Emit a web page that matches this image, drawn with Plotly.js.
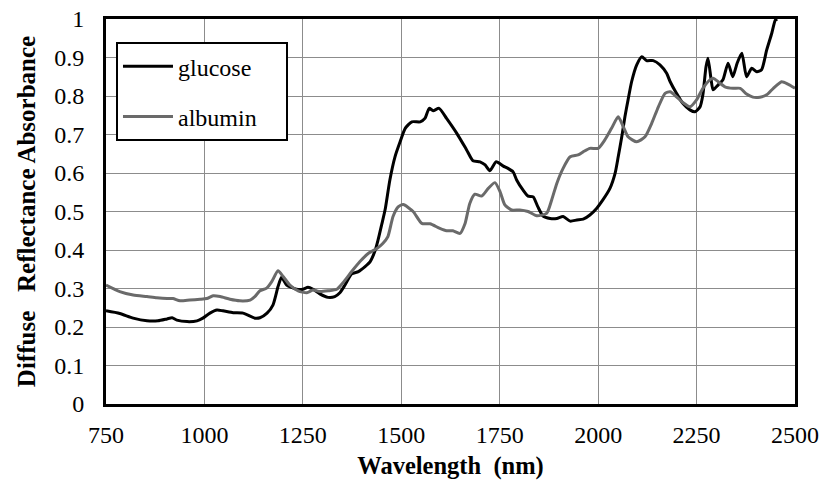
<!DOCTYPE html>
<html>
<head>
<meta charset="utf-8">
<script src="https://cdn.plot.ly/plotly-3.0.1.min.js"></script>
<style>html,body{margin:0;padding:0;background:#fff;}#chart{width:821px;height:484px;}</style>
</head>
<body>
<div id="chart"></div>
<script>
var glucoseX = [750,785,819,854,882,905,918,930,956,981,996,1014,1032,1047,1073,1098,1128,1141,1159,1174,1187,1196,1209,1234,1250,1263,1276,1293,1314,1331,1344,1357,1374,1391,1408,1421,1434,1441,1450,1459,1471,1484,1497,1510,1527,1548,1560,1571,1581,1596,1615,1641,1666,1682,1700,1713,1725,1741,1759,1771,1784,1793,1809,1822,1835,1847,1860,1878,1895,1911,1929,1946,1962,1979,1996,2012,2030,2043,2051,2060,2068,2076,2085,2098,2111,2123,2140,2157,2174,2183,2199,2215,2233,2246,2259,2266,2274,2279,2287,2292,2305,2317,2330,2342,2353,2365,2377,2390,2403,2415,2428,2441,2450,2455];
var glucoseY = [0.242,0.235,0.223,0.216,0.216,0.221,0.224,0.218,0.214,0.216,0.223,0.236,0.244,0.242,0.237,0.236,0.223,0.224,0.236,0.257,0.305,0.329,0.309,0.298,0.298,0.303,0.298,0.286,0.277,0.279,0.289,0.309,0.338,0.344,0.357,0.370,0.400,0.426,0.465,0.505,0.582,0.642,0.681,0.716,0.733,0.733,0.742,0.768,0.762,0.768,0.742,0.703,0.660,0.632,0.629,0.621,0.606,0.629,0.618,0.612,0.603,0.582,0.556,0.540,0.538,0.512,0.488,0.482,0.482,0.487,0.475,0.478,0.480,0.491,0.508,0.530,0.560,0.599,0.642,0.694,0.746,0.790,0.837,0.881,0.902,0.892,0.892,0.881,0.859,0.837,0.807,0.781,0.764,0.759,0.772,0.803,0.876,0.898,0.842,0.816,0.829,0.842,0.885,0.850,0.885,0.911,0.850,0.872,0.863,0.868,0.919,0.963,0.997,1.0];
var albuminX = [750,785,819,854,879,905,920,938,963,989,1006,1022,1040,1065,1090,1116,1128,1141,1158,1171,1187,1200,1217,1238,1260,1276,1293,1314,1336,1352,1374,1395,1416,1438,1453,1466,1479,1492,1505,1530,1552,1573,1598,1615,1631,1649,1662,1674,1687,1704,1721,1738,1751,1763,1780,1801,1822,1844,1869,1882,1895,1911,1929,1949,1962,1979,2000,2017,2034,2051,2064,2076,2098,2119,2136,2153,2170,2183,2199,2215,2233,2250,2266,2284,2292,2305,2322,2343,2361,2377,2393,2411,2428,2445,2466,2482,2500];
var albuminY = [0.309,0.292,0.283,0.279,0.276,0.274,0.274,0.268,0.270,0.272,0.274,0.281,0.279,0.272,0.268,0.270,0.279,0.294,0.301,0.318,0.346,0.331,0.309,0.294,0.289,0.296,0.292,0.294,0.298,0.315,0.344,0.370,0.391,0.404,0.417,0.435,0.487,0.512,0.518,0.500,0.469,0.468,0.456,0.450,0.450,0.443,0.469,0.521,0.545,0.540,0.560,0.575,0.551,0.517,0.504,0.504,0.500,0.489,0.495,0.530,0.573,0.612,0.642,0.647,0.655,0.664,0.664,0.686,0.716,0.746,0.720,0.694,0.681,0.694,0.729,0.772,0.807,0.811,0.798,0.783,0.772,0.790,0.820,0.842,0.846,0.837,0.824,0.820,0.820,0.805,0.797,0.797,0.803,0.820,0.837,0.831,0.820];
var xTicks = [750,1000,1250,1500,1750,2000,2250,2500];
var yTicks = [0,0.1,0.2,0.3,0.4,0.5,0.6,0.7,0.8,0.9,1];
var yTickText = ['0','0.1','0.2','0.3','0.4','0.5','0.6','0.7','0.8','0.9','1'];

var font = 'Liberation Serif';
var traces = [
  {x: glucoseX, y: glucoseY, name: 'glucose\u00a0\u00a0\u00a0\u00a0', mode: 'lines', legendgroup: 'g',
   line: {color: '#000000', width: 3, shape: 'spline', smoothing: 0.6}},
  {x: albuminX, y: albuminY, name: 'albumin\u00a0\u00a0\u00a0\u00a0', mode: 'lines', legendgroup: 'a',
   line: {color: '#6a6a6a', width: 3, shape: 'spline', smoothing: 0.6}}
];
var layout = {
  width: 821, height: 484,
  margin: {l: 106, r: 26, t: 19, b: 80},
  paper_bgcolor: '#fff', plot_bgcolor: '#fff',
  font: {family: font, size: 24, color: '#000'},
  showlegend: true,
  legend: {x: 0.0145, y: 0.94, xanchor: 'left', yanchor: 'top',
           bordercolor: '#000', borderwidth: 2, bgcolor: '#fff',
           font: {family: font, size: 24, color: '#000'},
           itemwidth: 50,
           tracegroupgap: 16, traceorder: 'grouped'},
  xaxis: {range: [750, 2500], tickvals: xTicks, ticktext: xTicks.map(String),
          showgrid: true, gridcolor: '#8c8c8c', gridwidth: 1,
          showline: true, linecolor: '#000', linewidth: 3, mirror: true,
          zeroline: false, ticks: '', ticklabelstandoff: 7,
          tickfont: {family: font, size: 24},
          title: {text: '<b>Wavelength\u00a0 (nm)</b>', font: {family: font, size: 24.5}, standoff: 11}},
  yaxis: {range: [0, 1], tickvals: yTicks, ticktext: yTickText,
          showgrid: true, gridcolor: '#8c8c8c', gridwidth: 1,
          showline: true, linecolor: '#000', linewidth: 3, mirror: true,
          zeroline: false, ticks: '', ticklabelstandoff: 14,
          tickfont: {family: font, size: 24},
          title: {text: '<b>Diffuse\u00a0\u00a0 Reflectance Absorbance</b>', font: {family: font, size: 25}, standoff: 12}}
};
Plotly.newPlot('chart', traces, layout, {displayModeBar: false, staticPlot: true});
</script>
</body>
</html>
